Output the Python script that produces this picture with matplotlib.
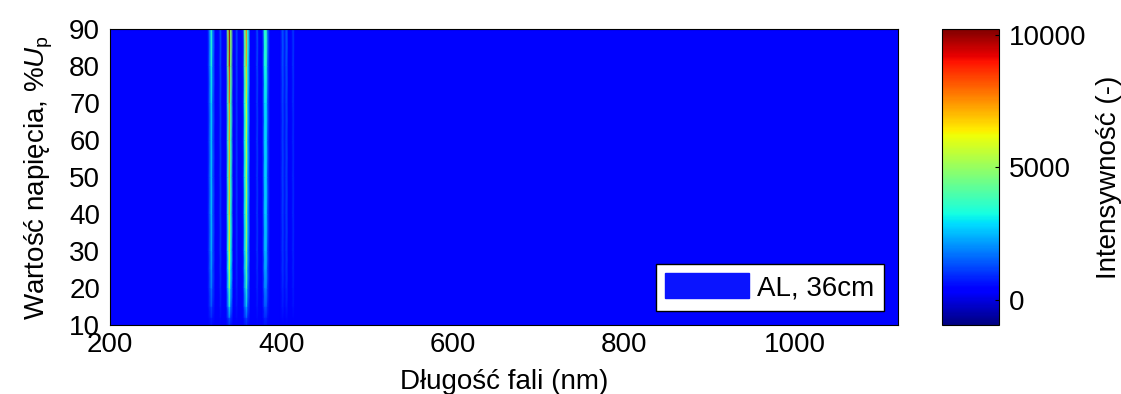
import numpy as np
import matplotlib
matplotlib.use("Agg")
import matplotlib.pyplot as plt
from matplotlib.patches import Patch

plt.rcParams['font.family'] = ['Liberation Sans', 'DejaVu Sans']
plt.rcParams['mathtext.fontset'] = 'custom'
plt.rcParams['mathtext.rm'] = 'Liberation Sans'
plt.rcParams['mathtext.it'] = 'Liberation Sans:italic'

# wavelength samples (nm) and intensity at 90 %Up
wavelength = [200, 314, 317, 318.5, 320, 323, 327, 329, 331, 335.5, 338, 339.5, 341, 344,
              346, 348, 350, 355, 357.5, 359.5, 361, 364, 370, 372, 374,
              378, 380.5, 382.5, 384.5, 387, 399, 401.5, 404, 406, 408.5,
              412, 414, 416, 1120]
intensity_top = [450, 450, 2200, 3600, 2000, 450, 450, 1300, 450, 450, 5200, 10200, 5000, 450,
                 450, 1200, 450, 450, 4200, 7800, 3500, 450, 450, 1300, 450,
                 450, 3400, 3800, 1500, 450, 450, 1400, 700, 1500, 450,
                 450, 1100, 450, 450]
background = 450

# voltage levels (%Up) and relative line strength at each level
voltage = [10, 12, 15, 20, 25, 30, 40, 50, 60, 70, 80, 90]
line_factor = [0.03, 0.12, 0.28, 0.45, 0.55, 0.62, 0.68, 0.7, 0.72, 0.75, 0.9, 1.0]

w = np.array(wavelength, dtype=float)
v = np.array(voltage, dtype=float)
top = np.array(intensity_top, dtype=float)
Z = background + np.outer(line_factor, top - background)
W, V = np.meshgrid(w, v)

fig = plt.figure(figsize=(11.21, 3.94), dpi=100)
ax = fig.add_axes([0.0981, 0.1751, 0.7029, 0.7513])
cax = fig.add_axes([0.8403, 0.1751, 0.0508, 0.7513])

mesh = ax.pcolormesh(W, V, Z, shading='gouraud', cmap='jet', vmin=-950, vmax=10230)
ax.set_xlim(200, 1120)
ax.set_ylim(10, 90)
ax.set_xticks([200, 400, 600, 800, 1000])
ax.set_yticks(range(10, 91, 10))
ax.tick_params(labelsize=20, length=0)
ax.tick_params(axis='y', pad=7)
ax.tick_params(axis='x', pad=5)
ax.set_xlabel('Długość fali (nm)', fontsize=20, labelpad=8)
ax.set_ylabel(r'Wartość napięcia, %$U_\mathrm{p}$', fontsize=20, labelpad=10)

leg = ax.legend(handles=[Patch(facecolor='#0a14ff', edgecolor='#0a14ff', label='AL, 36cm')],
                loc='lower right', fontsize=20, fancybox=False, framealpha=1,
                edgecolor='black', handlelength=3.0, handleheight=1.0,
                handletextpad=0.3, borderpad=0.35, borderaxespad=0.5)
leg.get_frame().set_linewidth(1.0)

cb = fig.colorbar(mesh, cax=cax, ticks=[0, 5000, 10000])
cb.ax.tick_params(labelsize=20, direction='in', length=3, pad=7)
cb.set_label('Intensywność (-)', fontsize=20, labelpad=7)

fig.savefig('out.png', dpi=100)
